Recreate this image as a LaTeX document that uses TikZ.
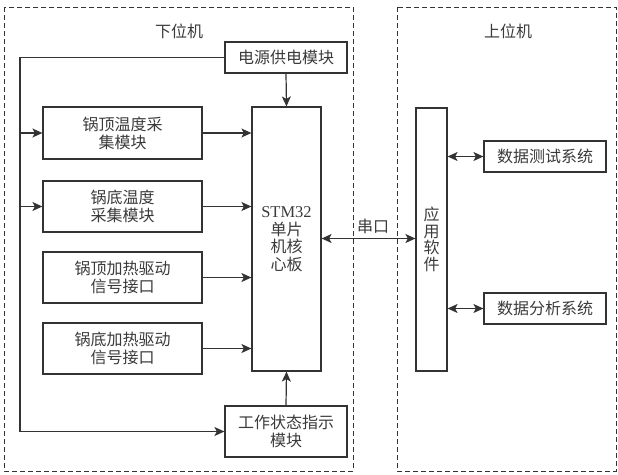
\documentclass[tikz,border=0pt]{standalone}
\usepackage{fontspec}
\setmainfont{Liberation Serif}
\newfontfamily\cjk{Noto Sans CJK SC}
\usetikzlibrary{arrows.meta}
\definecolor{ink}{HTML}{333333}
\definecolor{txt}{HTML}{3A3A3A}
\begin{document}
\begin{tikzpicture}[x=1pt,y=-1pt,
  blk/.style={draw=ink,line width=1.2pt,rectangle,inner sep=0pt,align=center,text=txt,
    font=\cjk\fontsize{16}{18}\selectfont},
  grp/.style={draw=ink,line width=0.9pt,dash pattern=on 5pt off 3pt},
  conn/.style={draw=ink,line width=1.2pt},
  arr/.style={conn,-{Stealth[length=10pt,width=9pt,inset=2.5pt]}},
  darr/.style={conn,{Stealth[length=10pt,width=9pt,inset=2.5pt]}-{Stealth[length=10pt,width=9pt,inset=2.5pt]}},
  lbl/.style={text=txt,font=\cjk\fontsize{16}{18}\selectfont,inner sep=0pt}]
\useasboundingbox (0,0) rectangle (618,474);
\draw[grp] (4,7) rectangle (353,471);
\draw[grp] (397,7) rectangle (616,471);
\node[lbl] (lowlbl) at (179,31) {下位机};
\node[lbl] (uplbl) at (508,31) {上位机};
\node[blk,minimum width=122pt,minimum height=31pt] (power) at (286,57.5) {电源供电模块};
\node[blk,minimum width=69pt,minimum height=264pt,font=\fontsize{16.5}{17.5}\selectfont] (mcu) at (286.5,239)
  {STM32\\{\cjk\fontsize{16}{17.5}\selectfont 单片}\\{\cjk\fontsize{16}{17.5}\selectfont 机核}\\{\cjk\fontsize{16}{17.5}\selectfont 心板}};
\node[blk,minimum width=159pt,minimum height=52pt] (topt) at (122.5,133) {锅顶温度采\\集模块};
\node[blk,minimum width=159pt,minimum height=51pt] (bott) at (122.5,206.5) {锅底温度\\采集模块};
\node[blk,minimum width=159pt,minimum height=51pt] (toph) at (122.5,277.5) {锅顶加热驱动\\信号接口};
\node[blk,minimum width=159pt,minimum height=51pt] (both) at (122.5,348.5) {锅底加热驱动\\信号接口};
\node[blk,minimum width=122pt,minimum height=51pt] (state) at (286,431.5) {工作状态指示\\模块};
\node[blk,minimum width=31pt,minimum height=263pt,font=\cjk\fontsize{16}{16.5}\selectfont] (app) at (431.5,239.5) {应\\用\\软\\件};
\node[blk,minimum width=122pt,minimum height=31pt] (test) at (545,156.5) {数据测试系统};
\node[blk,minimum width=122pt,minimum height=31pt] (anal) at (545,308.5) {数据分析系统};
\coordinate (c1) at (20,57.5);
\coordinate (c2) at (20,431.5);
\draw[conn] (power.west) -- (c1) -- (c2);
\draw[arr] (c2) -- (state.west);
\draw[arr] (c1 |- topt.west) -- (topt.west);
\draw[arr] (c1 |- bott.west) -- (bott.west);
\draw[arr] (power.south) -- (mcu.north);
\draw[arr] (state.north) -- (mcu.south);
\draw[arr] (topt.east) -- (topt.east -| mcu.west);
\draw[arr] (bott.east) -- (bott.east -| mcu.west);
\draw[arr] (toph.east) -- (toph.east -| mcu.west);
\draw[arr] (both.east) -- (both.east -| mcu.west);
\draw[darr] (mcu.east |- 0,238.5) -- node[lbl,above=4pt,pos=0.55] (serial) {串口} (app.west |- 0,238.5);
\draw[darr] (app.east |- test.west) -- (test.west);
\draw[darr] (app.east |- anal.west) -- (anal.west);
\end{tikzpicture}
\end{document}
